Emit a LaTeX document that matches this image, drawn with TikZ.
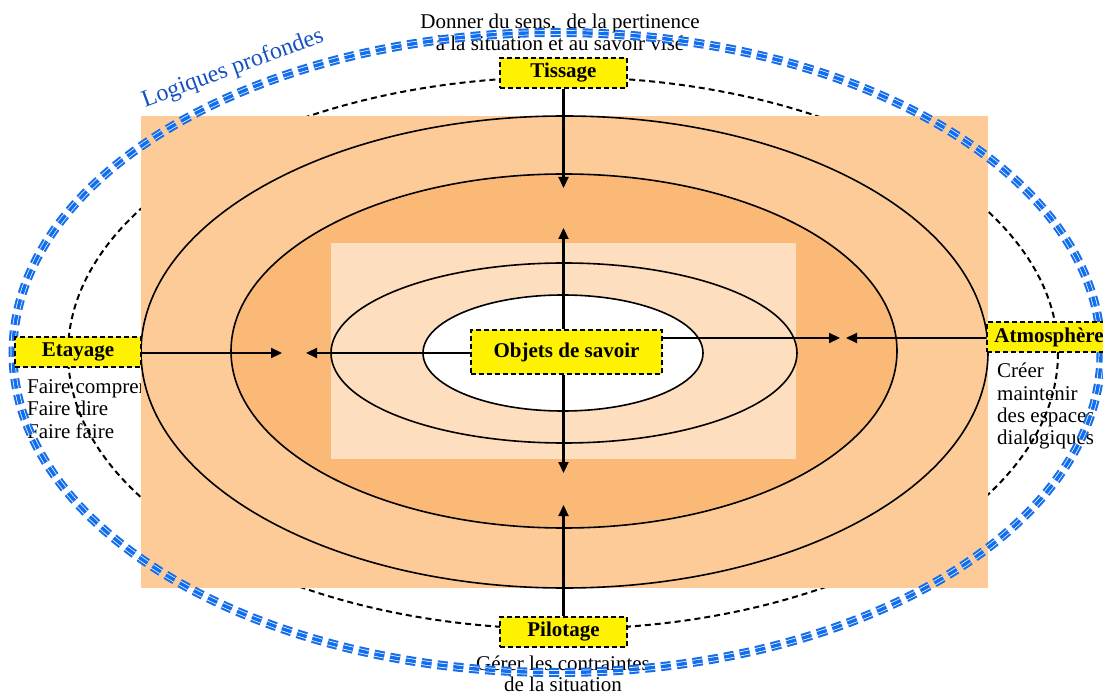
\documentclass[tikz,border=0pt]{standalone}
\usepackage{fontspec}
\setmainfont{Liberation Serif}
\usetikzlibrary{arrows.meta}
\definecolor{orangeA}{RGB}{252,203,152}
\definecolor{orangeB}{RGB}{251,185,120}
\definecolor{peach}{RGB}{253,222,190}
\definecolor{dashblue}{RGB}{20,110,235}
\definecolor{textblue}{RGB}{20,80,195}
\begin{document}
\begin{tikzpicture}[x=1pt,y=-1pt,
  lab/.style={draw=black, dash pattern=on 5pt off 3pt, line width=2pt, fill=yellow,
    font=\fontsize{21}{23}\selectfont\bfseries, inner sep=0pt, minimum height=30, minimum width=127},
  txt/.style={font=\fontsize{21}{23}\selectfont, inner sep=0pt},
  arr/.style={line width=2.2pt, -{Triangle[length=11pt,width=10pt]}},
  ring/.style={draw=black, line width=1.6pt},
  bluedash/.style={dash pattern=on 10pt off 6pt}]
\clip (0,0) rectangle (1103,692);
% texts
\node[txt, anchor=base] (t1) at (560,29) {Donner du sens,\ \ de la pertinence};
\node[txt, anchor=base] (t2) at (560,51) {à la situation et au savoir visé};
\node[txt, anchor=base] (b1) at (563,670) {Gérer les contraintes};
\node[txt, anchor=base] (b2) at (563,691) {de la situation};
\node[txt, anchor=base west] (l1) at (27,394) {Faire comprendre};
\node[txt, anchor=base west] (l2) at (27,416) {Faire dire};
\node[txt, anchor=base west] (l3) at (27,438) {Faire faire};
\node[txt, anchor=base west] (r1) at (997,378) {Créer};
\node[txt, anchor=base west] (r2) at (997,400) {maintenir};
\node[txt, anchor=base west] (r3) at (997,422) {des espaces};
\node[txt, anchor=base west] (r4) at (997,444) {dialogiques};
% dashed ellipse
\draw[black, line width=2pt, dash pattern=on 6pt off 4pt] (563,353) ellipse [x radius=495, y radius=276];
% orange structure
\fill[orangeA] (141,116) rectangle (988,588);
\draw[ring] (564.5,352) ellipse [x radius=423.5, y radius=236];
\draw[ring, fill=orangeB] (564,351) ellipse [x radius=333, y radius=177];
\fill[peach] (331,243) rectangle (796,459);
\draw[ring] (564,353) ellipse [x radius=233, y radius=90];
\draw[ring, fill=white] (563,353) ellipse [x radius=140, y radius=58];
% blue triple dashed ellipse
\draw[dashblue, line width=9pt, bluedash] (557,352.5) ellipse [x radius=544, y radius=320];
\draw[white, line width=4.8pt, bluedash] (557,352.5) ellipse [x radius=544, y radius=320];
\draw[dashblue, line width=3.4pt, bluedash] (557,352.5) ellipse [x radius=544, y radius=320];
\node[font=\fontsize{24}{26}\selectfont, text=textblue, rotate=20, inner sep=0pt] (lp) at (233,69) {Logiques profondes};
% boxes
\node[lab] (tis) at (563.5,73) {Tissage};
\node[lab, minimum width=126] (eta) at (78,352) {Etayage};
\node[lab, minimum width=124, anchor=west] (atm) at (986,337) {Atmosphère};
\node[lab, minimum width=191, minimum height=44] (obj) at (566.5,352) {Objets de savoir};
\node[lab] (pil) at (563.5,631.5) {Pilotage};
% arrow ends
\coordinate (tisE) at (563.5,188);
\coordinate (upE) at (563.5,228);
\coordinate (leftE) at (306,353);
\coordinate (rightE) at (840,338);
\coordinate (downE) at (563.5,473);
\coordinate (etaE) at (282,353);
\coordinate (atmE) at (846,338);
\coordinate (pilE) at (563.5,505);
\draw[arr] (tis.south -| tisE) -- (tisE);
\draw[arr] (obj.north -| upE) -- (upE);
\draw[arr] (obj.west |- leftE) -- (leftE);
\draw[arr] (obj.east |- rightE) -- (rightE);
\draw[arr] (obj.south -| downE) -- (downE);
\draw[arr] (eta.east |- etaE) -- (etaE);
\draw[arr] (atm.west |- atmE) -- (atmE);
\draw[arr] (pil.north -| pilE) -- (pilE);
\end{tikzpicture}
\end{document}
